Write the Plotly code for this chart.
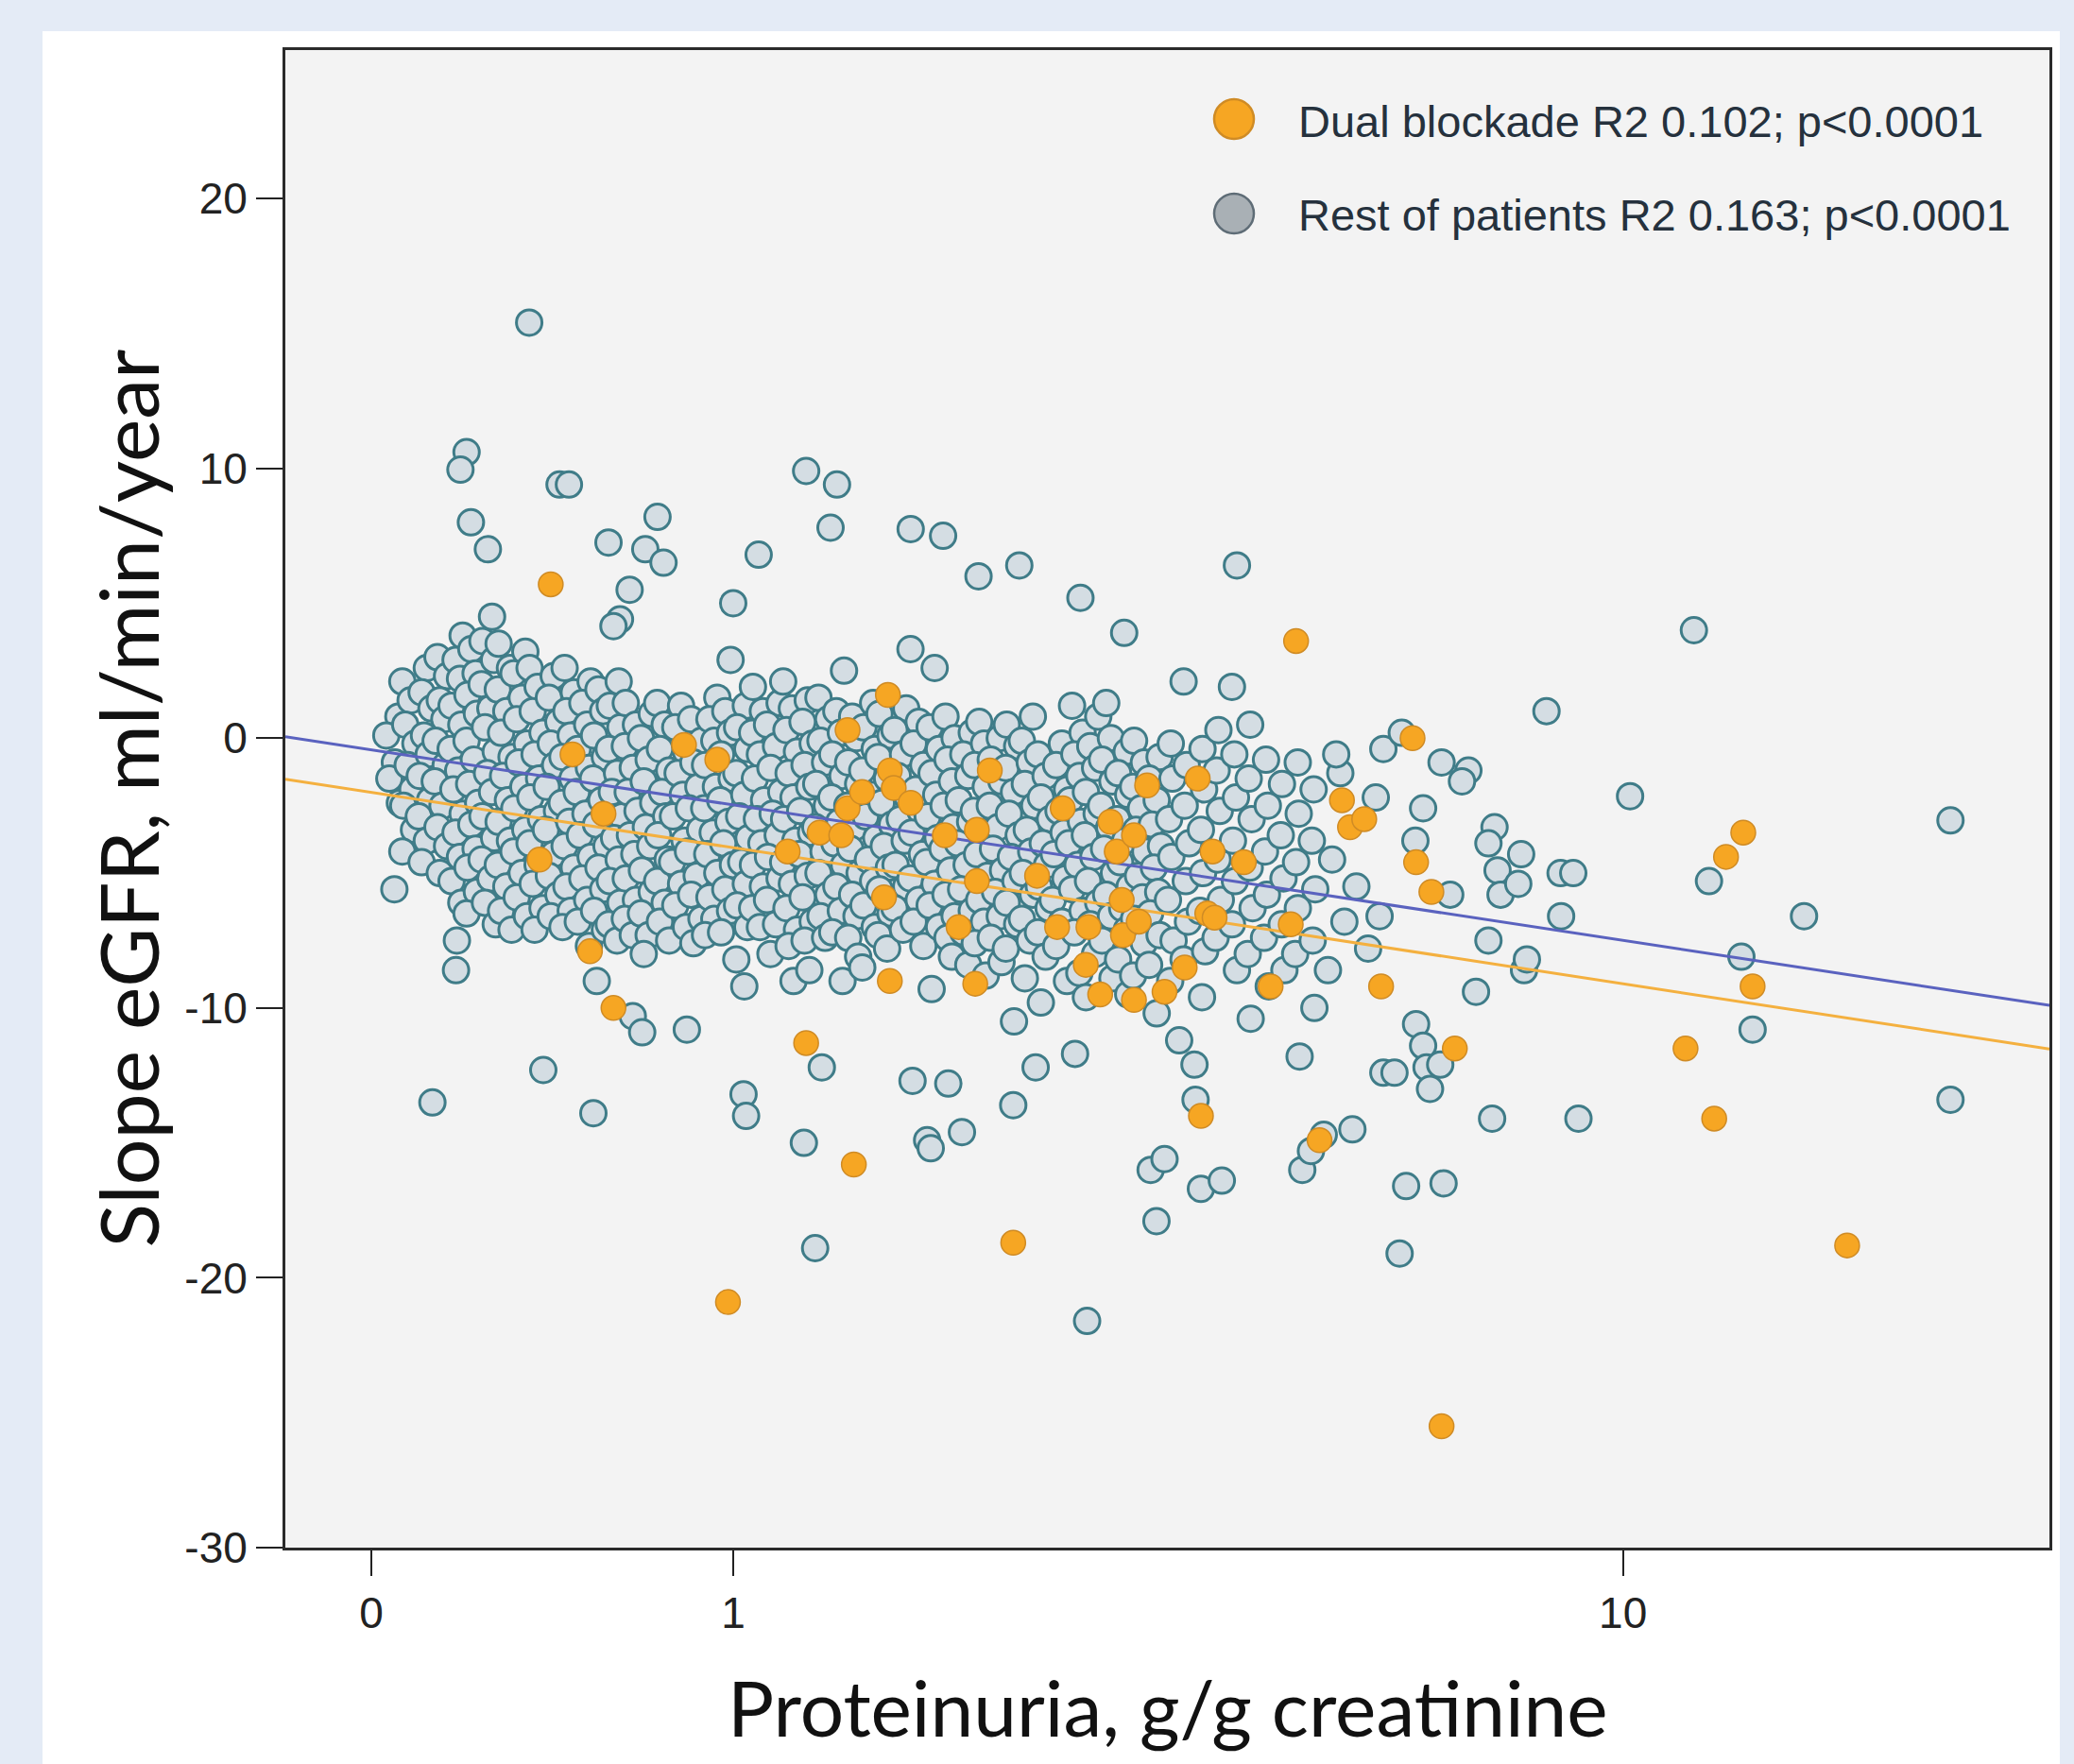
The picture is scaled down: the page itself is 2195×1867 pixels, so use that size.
import numpy as np
import plotly.graph_objects as go

# ---------------- data (proteinuria g/g creatinine, slope eGFR ml/min/year) ----------------
rest_points = [
    (0.053, 0.8), (0.029, 0.1), (0.046, -0.9), (0.035, -1.5), (0.056, -2.4),
    (0.061, 2.1), (0.078, 1.4), (0.067, 0.5), (0.088, -0.2), (0.072, -1.0), (0.082, -1.9), (0.063, -2.5), (0.085, -3.4), (0.061, -4.2),
    (0.112, 2.6), (0.101, 1.7), (0.122, 1.1), (0.106, 0.1), (0.116, -0.6), (0.097, -1.4), (0.119, -2.3), (0.095, -2.9), (0.112, -3.8), (0.101, -4.6),
    (0.135, 3.0), (0.156, 2.3), (0.140, 1.4), (0.150, 0.7), (0.131, -0.1), (0.153, -1.0), (0.129, -1.6), (0.146, -2.5), (0.135, -3.3), (0.156, -4.0), (0.140, -5.0),
    (0.191, 3.8), (0.175, 2.9), (0.185, 2.2), (0.166, 1.2), (0.188, 0.5), (0.164, -0.4), (0.181, -1.2), (0.170, -1.9), (0.191, -2.8), (0.175, -3.5),
    (0.185, -4.4), (0.166, -5.3), (0.188, -6.1), (0.178, -7.5), (0.176, -8.6),
    (0.211, 3.3), (0.221, 2.4), (0.202, 1.6), (0.224, 0.9), (0.200, -0.1), (0.217, -0.8), (0.206, -1.7), (0.227, -2.4), (0.211, -3.2), (0.221, -4.1),
    (0.202, -4.8), (0.224, -5.7), (0.200, -6.5),
    (0.260, 4.5), (0.237, 3.6), (0.265, 2.9), (0.235, 2.0), (0.256, 1.1), (0.243, 0.4), (0.269, -0.5), (0.248, -1.3), (0.260, -2.0), (0.237, -2.9),
    (0.265, -3.7), (0.235, -4.5), (0.256, -5.2), (0.243, -6.1), (0.269, -6.9),
    (0.276, 3.5), (0.304, 2.6), (0.274, 1.8), (0.295, 1.0), (0.282, 0.2), (0.308, -0.7), (0.287, -1.4), (0.299, -2.3), (0.276, -3.1), (0.304, -3.8),
    (0.274, -4.7), (0.295, -5.5), (0.282, -6.4), (0.308, -7.1),
    (0.343, 3.2), (0.313, 2.4), (0.334, 1.5), (0.321, 0.7), (0.347, -0.2), (0.326, -0.9), (0.338, -1.8), (0.315, -2.6), (0.343, -3.4), (0.313, -4.2),
    (0.334, -5.0), (0.321, -5.9), (0.347, -6.6),
    (0.354, 2.6), (0.375, 1.9), (0.362, 1.0), (0.388, 0.2), (0.367, -0.6), (0.379, -1.5), (0.356, -2.2), (0.384, -3.0), (0.354, -3.9), (0.375, -4.7),
    (0.362, -5.4), (0.388, -6.3), (0.367, -7.1),
    (0.418, 2.3), (0.405, 1.5), (0.431, 0.6), (0.410, -0.2), (0.422, -1.0), (0.399, -1.8), (0.427, -2.7), (0.397, -3.4), (0.418, -4.3), (0.405, -5.1),
    (0.431, -5.8), (0.410, -6.6),
    (0.448, 2.6), (0.474, 1.7), (0.453, 1.0), (0.465, 0.1), (0.442, -0.7), (0.470, -1.5), (0.440, -2.4), (0.461, -3.1), (0.448, -4.0), (0.474, -4.8),
    (0.453, -5.5), (0.465, -6.4), (0.442, -7.0),
    (0.522, 2.1), (0.498, 1.3), (0.512, 0.5), (0.485, -0.4), (0.517, -1.1), (0.482, -2.0), (0.507, -2.8), (0.491, -3.6), (0.522, -4.4), (0.498, -5.2),
    (0.512, -6.0), (0.485, -6.8), (0.517, -7.7),
    (0.545, 1.8), (0.559, 1.0), (0.532, 0.1), (0.564, -0.7), (0.529, -1.5), (0.554, -2.3), (0.538, -3.2), (0.569, -4.0), (0.545, -4.8), (0.559, -5.6),
    (0.532, -6.4), (0.564, -7.1),
    (0.606, 2.1), (0.579, 1.2), (0.611, 0.4), (0.576, -0.4), (0.601, -1.3), (0.585, -2.0), (0.616, -2.9), (0.592, -3.7), (0.606, -4.5), (0.579, -5.3),
    (0.611, -6.1), (0.576, -6.9), (0.601, -7.5),
    (0.628, 1.3), (0.660, 0.5), (0.625, -0.3), (0.650, -1.1), (0.634, -2.0), (0.665, -2.7), (0.641, -3.6), (0.655, -4.3), (0.628, -5.2), (0.660, -6.0),
    (0.625, -6.7), (0.650, -7.3),
    (0.711, 0.9), (0.676, 0.0), (0.701, -0.8), (0.685, -1.6), (0.716, -2.4), (0.692, -3.3), (0.706, -4.0), (0.679, -4.9), (0.711, -5.7), (0.676, -6.5),
    (0.701, -7.3), (0.685, -8.0),
    (0.729, 1.3), (0.754, 0.5), (0.738, -0.4), (0.769, -1.2), (0.745, -2.0), (0.759, -2.9), (0.732, -3.6), (0.764, -4.5), (0.729, -5.3), (0.754, -6.1),
    (0.738, -6.8), (0.769, -7.5),
    (0.810, 1.2), (0.790, 0.4), (0.827, -0.5), (0.798, -1.3), (0.816, -2.1), (0.782, -2.9), (0.822, -3.8), (0.779, -4.6), (0.810, -5.4), (0.790, -6.2),
    (0.827, -7.0),
    (0.845, 0.7), (0.882, -0.1), (0.853, -0.9), (0.871, -1.8), (0.837, -2.6), (0.877, -3.4), (0.834, -4.2), (0.865, -5.1), (0.845, -5.8), (0.882, -6.7),
    (0.853, -7.6),
    (0.940, 1.5), (0.911, 0.7), (0.929, -0.1), (0.895, -1.0), (0.935, -1.8), (0.892, -2.6), (0.923, -3.5), (0.903, -4.3), (0.940, -5.0), (0.911, -5.9),
    (0.929, -6.7), (0.895, -7.3),
    (0.970, 1.0), (0.988, 0.2), (0.954, -0.6), (0.994, -1.5), (0.951, -2.3), (0.982, -3.1), (0.962, -3.9), (0.999, -4.7), (0.970, -5.6), (0.988, -6.4),
    (0.954, -7.2),
    (1.049, 1.2), (1.015, 0.4), (1.055, -0.4), (1.012, -1.3), (1.043, -2.1), (1.023, -2.9), (1.060, -3.7), (1.031, -4.6), (1.049, -5.4), (1.015, -6.2),
    (1.055, -7.0), (1.012, -8.2), (1.043, -9.2),
    (1.077, 1.9), (1.117, 1.0), (1.074, 0.2), (1.105, -0.6), (1.085, -1.5), (1.122, -2.3), (1.093, -3.0), (1.111, -3.9), (1.077, -4.7), (1.117, -5.5),
    (1.074, -6.3), (1.105, -7.0),
    (1.186, 1.3), (1.134, 0.5), (1.171, -0.3), (1.148, -1.1), (1.193, -2.0), (1.157, -2.8), (1.178, -3.6), (1.138, -4.4), (1.186, -5.2), (1.134, -6.0),
    (1.171, -6.9), (1.148, -8.0),
    (1.201, 2.1), (1.238, 1.1), (1.215, 0.3), (1.260, -0.5), (1.224, -1.3), (1.245, -2.2), (1.205, -3.0), (1.253, -3.8), (1.201, -4.6), (1.238, -5.4),
    (1.215, -6.3), (1.260, -7.1), (1.224, -7.7), (1.245, -9.0),
    (1.307, 1.4), (1.284, 0.6), (1.329, -0.2), (1.293, -1.0), (1.314, -1.8), (1.274, -2.7), (1.322, -3.5), (1.270, -4.3), (1.307, -5.1), (1.284, -5.9),
    (1.329, -6.8), (1.293, -7.5), (1.314, -8.6),
    (1.355, 1.5), (1.400, 0.7), (1.364, -0.1), (1.385, -0.9), (1.345, -1.7), (1.393, -2.5), (1.341, -3.3), (1.378, -4.2), (1.355, -5.0), (1.400, -5.8),
    (1.364, -6.6), (1.385, -7.4),
    (1.473, 2.5), (1.437, 1.0), (1.458, 0.2), (1.418, -0.6), (1.466, -1.4), (1.414, -2.2), (1.451, -3.1), (1.428, -3.9), (1.473, -4.7), (1.437, -5.5),
    (1.458, -6.4), (1.418, -7.2), (1.466, -9.0),
    (1.512, 0.8), (1.533, 0.0), (1.493, -0.9), (1.541, -1.7), (1.489, -2.5), (1.526, -3.3), (1.503, -4.1), (1.548, -5.0), (1.512, -5.8), (1.533, -6.6),
    (1.493, -7.4), (1.541, -8.1),
    (1.615, 1.3), (1.567, 0.4), (1.623, -0.4), (1.561, -1.2), (1.606, -2.1), (1.578, -2.9), (1.631, -3.7), (1.589, -4.5), (1.615, -5.3), (1.567, -6.2),
    (1.623, -7.0), (1.561, -8.5),
    (1.647, 0.9), (1.703, 0.1), (1.641, -0.7), (1.686, -1.5), (1.658, -2.4), (1.711, -3.2), (1.669, -4.0), (1.695, -4.8), (1.647, -5.6), (1.703, -6.5),
    (1.641, -7.3), (1.686, -7.8),
    (1.786, 1.1), (1.724, 0.3), (1.769, -0.6), (1.741, -1.4), (1.794, -2.2), (1.752, -3.0), (1.778, -3.8), (1.730, -4.7), (1.786, -5.5), (1.724, -6.3),
    (1.769, -7.1),
    (1.809, 3.3), (1.854, 0.6), (1.826, -0.2), (1.879, -1.0), (1.837, -1.9), (1.863, -2.7), (1.815, -3.5), (1.871, -4.3), (1.809, -5.2), (1.854, -6.0),
    (1.826, -6.8), (1.879, -7.7),
    (1.942, 2.6), (1.914, 0.4), (1.967, -0.4), (1.925, -1.3), (1.951, -2.1), (1.903, -2.9), (1.959, -3.7), (1.897, -4.6), (1.942, -5.4), (1.914, -6.2),
    (1.967, -7.0), (1.925, -9.3),
    (2.004, 0.8), (2.057, 0.0), (2.015, -0.8), (2.041, -1.6), (1.993, -2.5), (2.049, -3.3), (1.987, -4.1), (2.032, -4.9), (2.004, -5.8), (2.057, -6.6),
    (2.015, -7.4), (2.041, -8.1),
    (2.159, 0.2), (2.108, -0.6), (2.138, -1.4), (2.081, -2.3), (2.149, -3.1), (2.075, -3.9), (2.128, -4.7), (2.095, -5.6), (2.159, -6.4), (2.108, -7.2),
    (2.138, -8.4),
    (2.204, 0.6), (2.234, -0.2), (2.177, -1.0), (2.245, -1.8), (2.171, -2.7), (2.224, -3.5), (2.191, -4.3), (2.255, -5.1), (2.204, -6.0), (2.234, -6.8),
    (2.177, -7.6), (2.245, -8.8),
    (2.333, 0.0), (2.276, -0.8), (2.344, -1.6), (2.270, -2.5), (2.323, -3.3), (2.290, -4.1), (2.354, -4.9), (2.303, -5.7), (2.333, -6.6), (2.276, -7.4),
    (2.344, -8.3),
    (2.378, 0.5), (2.446, -0.3), (2.372, -1.1), (2.425, -2.0), (2.392, -2.8), (2.456, -3.6), (2.405, -4.4), (2.435, -5.3), (2.378, -6.1), (2.446, -6.9),
    (2.372, -7.8), (2.425, -10.5),
    (2.551, 0.8), (2.477, -0.1), (2.530, -0.9), (2.497, -1.7), (2.561, -2.5), (2.510, -3.4), (2.540, -4.2), (2.483, -5.0), (2.551, -5.8), (2.477, -6.7),
    (2.530, -7.5), (2.497, -8.9),
    (2.586, -0.6), (2.639, -1.4), (2.606, -2.2), (2.670, -3.0), (2.619, -3.9), (2.649, -4.7), (2.592, -5.5), (2.660, -6.3), (2.586, -7.2), (2.639, -8.1),
    (2.606, -9.8),
    (2.754, -0.2), (2.713, -1.0), (2.791, -1.9), (2.730, -2.7), (2.767, -3.5), (2.697, -4.3), (2.779, -5.2), (2.689, -6.0), (2.754, -6.8), (2.713, -7.7),
    (2.791, -9.0),
    (2.828, 1.2), (2.906, 0.2), (2.845, -0.6), (2.882, -1.4), (2.812, -2.3), (2.894, -3.1), (2.804, -3.9), (2.869, -4.7), (2.828, -5.6), (2.906, -6.4),
    (2.845, -7.2), (2.882, -8.7),
    (3.025, 0.8), (2.964, -0.3), (3.001, -1.1), (2.931, -2.0), (3.013, -2.8), (2.923, -3.6), (2.988, -4.4), (2.947, -5.3), (3.025, -6.1), (2.964, -6.9),
    (3.001, -8.0), (2.931, -9.6),
    (3.087, 1.3), (3.124, 0.0), (3.054, -0.8), (3.136, -1.6), (3.046, -2.5), (3.111, -3.3), (3.070, -4.1), (3.148, -5.0), (3.087, -5.8), (3.124, -6.6),
    (3.054, -7.5), (3.136, -8.9),
    (3.251, -0.5), (3.181, -1.3), (3.263, -2.1), (3.173, -3.0), (3.238, -3.8), (3.197, -4.6), (3.275, -5.5), (3.214, -6.3), (3.251, -7.1), (3.181, -8.2),
    (3.263, -9.5),
    (3.311, -0.1), (3.393, -0.9), (3.303, -1.8), (3.368, -2.6), (3.327, -3.4), (3.405, -4.2), (3.344, -5.1), (3.381, -5.9), (3.311, -6.7), (3.393, -7.6),
    (3.303, -8.8),
    (3.527, -0.7), (3.437, -1.5), (3.502, -2.3), (3.461, -3.2), (3.539, -4.0), (3.478, -4.8), (3.515, -5.7), (3.445, -6.5), (3.527, -7.3), (3.437, -8.4),
    (3.502, -10.2),
    (3.625, -0.2), (3.640, -1.5), (3.610, -3.0), (3.630, -4.4), (3.600, -6.0), (3.650, -7.5), (3.620, -9.0),
    (3.768, -1.0), (3.750, -2.5), (3.790, -3.9), (3.760, -5.3), (3.780, -6.8), (3.740, -8.2),
    (3.915, -0.4), (3.930, -1.9), (3.900, -3.4), (3.920, -5.0), (3.890, -6.4), (3.940, -7.9), (3.910, -9.6),
    (4.067, 0.3), (4.050, -1.2), (4.080, -2.7), (4.060, -4.5), (4.090, -6.0), (4.040, -7.4),
    (4.224, -0.6), (4.240, -2.2), (4.210, -3.8), (4.230, -5.3), (4.200, -6.9), (4.250, -8.6),
    (4.385, 0.5), (4.370, -1.5), (4.400, -3.0), (4.380, -4.8), (4.410, -6.3), (4.360, -8.0), (4.390, -10.4),
    (4.551, -0.8), (4.570, -2.5), (4.540, -4.2), (4.560, -5.8), (4.530, -7.4), (4.580, -9.2),
    (4.723, -1.7), (4.710, -3.6), (4.740, -5.2), (4.720, -6.9), (4.750, -8.6),
    (4.899, -0.9), (4.910, -2.8), (4.880, -4.6), (4.900, -6.3), (4.870, -8.0), (4.920, -11.8),
    (5.081, -1.9), (5.060, -3.8), (5.100, -5.6), (5.070, -7.5), (5.090, -10.0),
    # scattered patients
    (0.353, 15.4), (0.200, 10.6), (0.186, 9.95), (0.434, 9.4), (0.460, 9.4), (0.210, 8.0), (0.250, 7.0),
    (0.730, 8.2), (0.575, 7.25), (0.690, 7.0), (0.750, 6.5), (0.640, 5.5), (0.610, 4.4), (0.590, 4.15),
    (1.100, 6.8), (1.000, 5.0), (0.990, 2.9), (1.300, 9.9), (1.440, 9.4), (1.410, 7.8), (1.810, 7.75),
    (1.990, 7.5), (2.200, 6.0), (2.460, 6.4), (2.890, 5.2), (3.230, 3.9), (4.250, 6.4), (3.740, 2.1),
    (4.200, 1.9), (8.50, 1.0), (11.6, 4.0),
    (0.045, -5.6), (0.124, -13.5), (0.390, -12.3), (0.530, -13.9), (0.650, -10.3), (0.680, -10.9),
    (0.830, -10.8), (0.540, -9.0), (1.040, -13.2), (1.050, -14.0), (1.290, -15.0), (1.340, -18.9), (1.370, -12.2),
    (1.820, -12.7), (2.020, -12.8), (1.900, -14.9), (1.920, -15.2), (2.100, -14.6), (2.420, -13.6), (2.570, -12.2),
    (2.850, -11.7), (2.940, -21.6), (3.450, -16.0), (3.570, -15.6),
    (3.500, -17.9), (3.900, -16.7), (4.100, -16.4), (3.850, -13.4), (3.840, -12.1), (3.700, -11.2),
    (4.950, -16.0), (5.050, -15.3), (5.200, -14.7), (5.550, -14.5), (5.950, -12.4), (6.100, -12.4),
    (6.400, -10.6), (6.500, -11.4), (6.550, -12.2), (6.750, -12.1), (6.600, -13.0), (7.300, -9.4),
    (8.100, -8.6), (8.150, -8.2), (7.500, -7.5), (6.900, -5.8),
    (7.650, -4.9), (7.700, -5.8), (8.050, -4.3), (8.000, -5.4), (7.600, -3.3), (7.500, -3.9),
    (6.500, -2.6), (6.390, -3.8), (6.770, -0.9), (7.180, -1.2), (7.080, -1.6), (5.850, -2.2),
    (5.400, -1.3), (5.350, -0.6), (5.950, -0.4), (6.200, 0.2),
    (5.300, -4.5), (5.600, -5.5), (5.450, -6.8), (5.900, -6.6), (5.750, -7.8), (5.250, -8.6),
    (8.76, -5.0), (9.00, -5.0), (8.77, -6.6), (9.10, -14.1), (7.56, -14.1), (6.26, -16.6), (6.80, -16.5), (6.17, -19.1),
    (10.15, -2.15), (19.6, -3.05), (14.56, -6.6), (11.97, -5.3), (12.8, -8.1), (13.1, -10.8), (19.6, -13.4),
]

dual_points = [
    (0.41, 5.7), (0.47, -0.6), (0.56, -2.8), (0.38, -4.5), (0.52, -7.9), (0.59, -10.0),
    (0.82, -0.25), (0.94, -0.8), (0.98, -20.9), (1.22, -4.2), (1.30, -11.3), (1.36, -3.5),
    (1.46, -3.6), (1.49, 0.3), (1.69, 1.6), (1.52, -15.8), (1.49, -2.6), (1.56, -2.0),
    (1.70, -1.2), (1.72, -1.85), (1.81, -2.4), (1.67, -5.9), (1.70, -9.0), (2.00, -3.6),
    (2.08, -7.0), (2.18, -9.1), (2.19, -3.4), (2.19, -5.3), (2.27, -1.2), (2.42, -18.7),
    (2.58, -5.1), (2.76, -2.6), (2.72, -7.0), (2.93, -8.4), (2.95, -7.0), (3.04, -9.5),
    (3.12, -3.1), (3.17, -4.2), (3.21, -6.0), (3.22, -7.3), (3.31, -9.7), (3.31, -3.6),
    (3.35, -6.8), (3.42, -1.75), (3.57, -9.4), (3.75, -8.5), (3.90, -14.0), (3.96, -6.5),
    (4.03, -6.65), (4.01, -4.2), (4.32, -4.6), (4.60, -9.2), (4.82, -6.9), (4.88, 3.6),
    (5.15, -14.9), (5.42, -2.3), (5.52, -3.3), (5.70, -3.0), (5.92, -9.2), (6.35, 0.0),
    (6.40, -4.6), (6.62, -5.7), (6.97, -11.5), (6.77, -25.5), (11.4, -11.5), (12.1, -14.1),
    (12.4, -4.4), (12.85, -3.5), (13.1, -9.2), (15.9, -18.8), (3.87, -1.5),
]

# fitted lines: slope eGFR = intercept + slope * log10(proteinuria + 1)
fit_rest = (-0.435, -6.78)
fit_dual = (-2.01, -6.81)

x_ticks = [0, 1, 10]
y_ticks = [-30, -20, -10, 0, 10, 20]
x_limits = (-0.152, 23.9)
y_limits = (-30, 25.5)
legend_labels = ["Dual blockade R2 0.102; p<0.0001", "Rest of patients R2 0.163; p<0.0001"]
x_title = "Proteinuria, g/g creatinine"
y_title = "Slope eGFR, ml/min/year"

# ---------------- figure ----------------
W, H = 2195, 1867
L, R, T, B = 302, 26, 53, 229
pw, ph = W - L - R, H - T - B

def px(xp):
    return (xp - L) / pw

def py(yp):
    return (H - B - yp) / ph

ORANGE = "#f6a623"
ORANGE_EDGE = "#cf8b25"
GREY_FILL = "#d4dde3"
GREY_EDGE = "#3f7c88"

rx = np.array([p[0] for p in rest_points]) + 1.0
ry = np.array([p[1] for p in rest_points])
dx = np.array([p[0] for p in dual_points]) + 1.0
dy = np.array([p[1] for p in dual_points])

fig = go.Figure()
fig.add_trace(go.Scatter(
    x=rx, y=ry, mode="markers", showlegend=False, hoverinfo="skip",
    marker=dict(size=27, color=GREY_FILL, line=dict(color=GREY_EDGE, width=3)),
))

line_x = np.array(x_limits) + 1.0
for (a, b), col in ((fit_rest, "#5a62bf"), (fit_dual, "#f4b03f")):
    fig.add_trace(go.Scatter(
        x=line_x, y=a + b * np.log10(line_x), mode="lines", showlegend=False,
        hoverinfo="skip", line=dict(color=col, width=3),
    ))

fig.add_trace(go.Scatter(
    x=dx, y=dy, mode="markers", showlegend=False, hoverinfo="skip",
    marker=dict(size=26, color=ORANGE, line=dict(color=ORANGE_EDGE, width=1.5)),
))

shapes = [
    dict(type="rect", xref="paper", yref="paper", x0=px(45), x1=px(2180), y0=py(H + 10), y1=py(33),
         fillcolor="#ffffff", line=dict(width=0), layer="below"),
    dict(type="rect", xref="paper", yref="paper", x0=0, x1=1, y0=0, y1=1,
         fillcolor="#f3f3f3", line=dict(width=0), layer="below"),
]
r = 21
for cy, fill, edge in ((126, ORANGE, ORANGE_EDGE), (226, "#a9b0b5", "#5e6c76")):
    shapes.append(dict(type="circle", xref="paper", yref="paper",
                       x0=px(1306 - r), x1=px(1306 + r), y0=py(cy + r), y1=py(cy - r),
                       fillcolor=fill, line=dict(color=edge, width=2.5), layer="above"))

annotations = []
for cy, txt in zip((128, 228), legend_labels):
    annotations.append(dict(text=txt, xref="paper", yref="paper", x=px(1372), y=py(cy),
                            xanchor="left", yanchor="middle", showarrow=False,
                            font=dict(family="Liberation Sans, Arial", size=47, color="#25313d")))
annotations.append(dict(text=x_title, xref="paper", yref="paper", x=0.5, y=py(1806),
                        xanchor="center", yanchor="middle", showarrow=False,
                        font=dict(family="Lato, Open Sans", size=82, color="#111111")))
annotations.append(dict(text=y_title, xref="paper", yref="paper", x=px(134), y=0.5,
                        xanchor="center", yanchor="middle", showarrow=False, textangle=-90,
                        font=dict(family="Lato, Open Sans", size=86, color="#111111")))

fig.update_layout(
    width=W, height=H,
    margin=dict(l=L, r=R, t=T, b=B, pad=0),
    paper_bgcolor="#e4ebf6",
    plot_bgcolor="rgba(0,0,0,0)",
    shapes=shapes,
    annotations=annotations,
    showlegend=False,
)
fig.update_xaxes(
    type="log", range=[np.log10(x_limits[0] + 1), np.log10(x_limits[1] + 1)],
    tickvals=[t + 1 for t in x_ticks], ticktext=[str(t) for t in x_ticks],
    ticks="outside", ticklen=27, tickwidth=2, tickcolor="#222222",
    showline=True, linecolor="#2a2a2a", linewidth=3, mirror=True,
    showgrid=False, zeroline=False,
    tickfont=dict(family="Liberation Sans, Arial", size=46, color="#222222"),
)
fig.update_yaxes(
    range=list(y_limits), tickvals=y_ticks, ticktext=[str(t) for t in y_ticks],
    ticks="outside", ticklen=28, tickwidth=2, tickcolor="#222222",
    showline=True, linecolor="#2a2a2a", linewidth=3, mirror=True,
    showgrid=False, zeroline=False,
    tickfont=dict(family="Liberation Sans, Arial", size=46, color="#222222"),
)

fig.write_html("out.html")
